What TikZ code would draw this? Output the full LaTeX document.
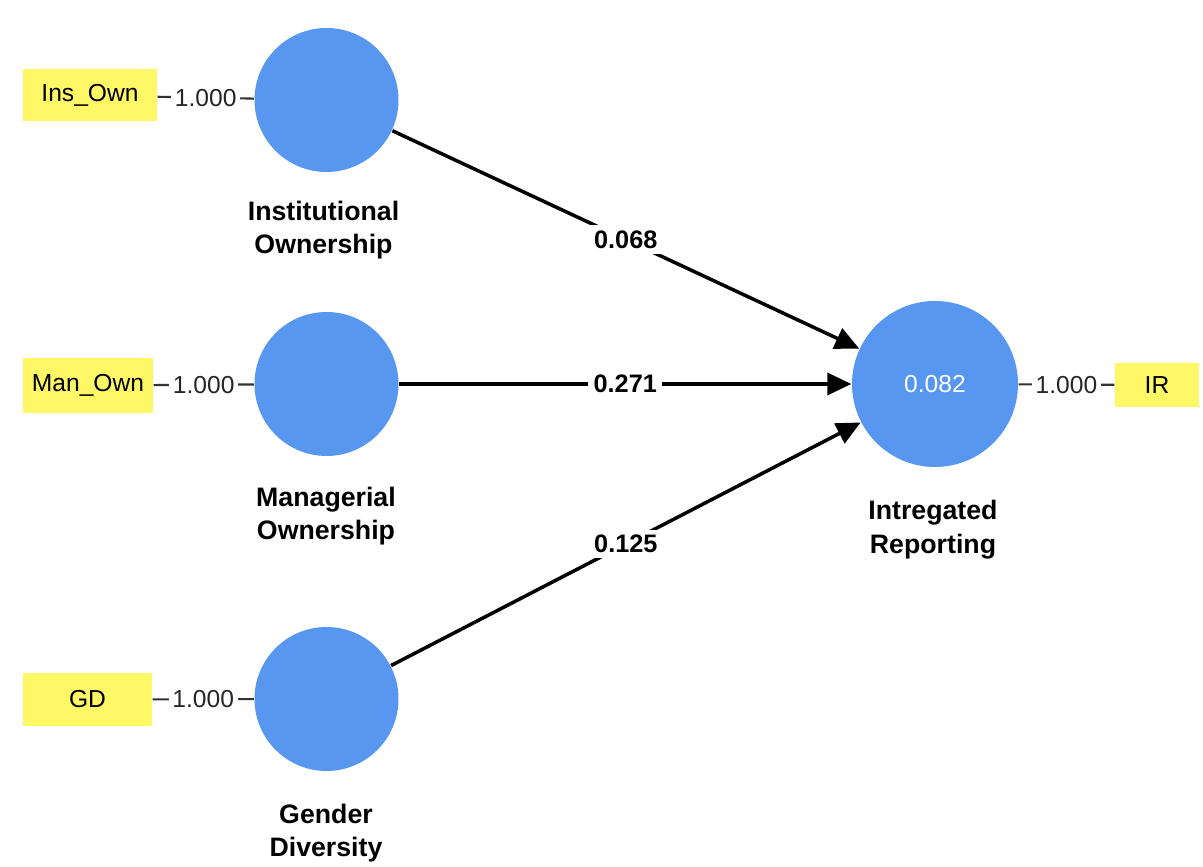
\documentclass[tikz,border=0pt]{standalone}
\usepackage{fontspec}
\setmainfont{Liberation Sans}
\usetikzlibrary{arrows.meta}
\definecolor{lvblue}{RGB}{88,151,239}
\definecolor{mvyellow}{RGB}{255,248,102}

\begin{document}
\begin{tikzpicture}[
    latent/.style={shape=circle, fill=lvblue, minimum size=1.44cm, inner sep=0pt, text=white, font=\fontsize{7}{8.4}\selectfont},
    indicator/.style={shape=rectangle, fill=mvyellow, minimum width=1.32cm, minimum height=0.52cm, inner sep=0pt, font=\fontsize{7}{8.4}\selectfont},
    caption/.style={align=center, inner sep=0pt, font=\bfseries\fontsize{7.6}{9.6}\selectfont},
    loading/.style={draw=black!80, line width=0.6pt},
    loadval/.style={fill=white, inner sep=1pt, text=black!85, font=\fontsize{7}{8.4}\selectfont},
    structpath/.style={draw=black, line width=1pt, -{Triangle[length=0.24cm, width=0.22cm]}},
    weight/.style={fill=white, inner sep=1.5pt, font=\bfseries\fontsize{7.2}{8.6}\selectfont}
]
    	\useasboundingbox (0, 0) rectangle (12.03, -8.67);
    	% Constructs:
    	\node[latent] (ins) at (3.265, -1.00){};
    	\node[latent] (man) at (3.265, -3.84){};
    	\node[latent] (gd) at (3.265, -6.99){};
    	\node[latent, minimum size=1.66cm] (ir) at (9.35, -3.84){0.082};
    	% Indicators:
    	\node[indicator, minimum width=1.34cm] (insown) at (0.90, -0.955){Ins\_Own};
    	\node[indicator, minimum width=1.30cm, minimum height=0.55cm] (manown) at (0.88, -3.855){Man\_Own};
    	\node[indicator, minimum width=1.29cm, minimum height=0.53cm] (gdind) at (0.875, -6.995){GD};
    	\node[indicator, minimum width=0.84cm, minimum height=0.44cm] (irind) at (11.57, -3.85){IR};
    	% Captions:
    	\node[caption] (inscap) at (3.235, -2.30){Institutional\\Ownership};
    	\node[caption] (mancap) at (3.26, -5.16){Managerial\\Ownership};
    	\node[caption] (gdcap) at (3.26, -8.33){Gender\\Diversity};
    	\node[caption] (ircap) at (9.33, -5.30){Intregated\\Reporting};
    	% Loadings:
    	\draw[loading] (insown) -- node[loadval]{1.000} (ins);
    	\draw[loading] (manown) -- node[loadval]{1.000} (man);
    	\draw[loading] (gdind) -- node[loadval]{1.000} (gd);
    	\draw[loading] (ir) -- node[loadval]{1.000} (irind);
    	% Paths:
    	\draw[structpath] (ins) -- node[weight]{0.068} (ir);
    	\draw[structpath] (man) -- node[weight]{0.271} (ir);
    	\draw[structpath] (gd) -- node[weight]{0.125} (ir);
    \end{tikzpicture}
\end{document}
